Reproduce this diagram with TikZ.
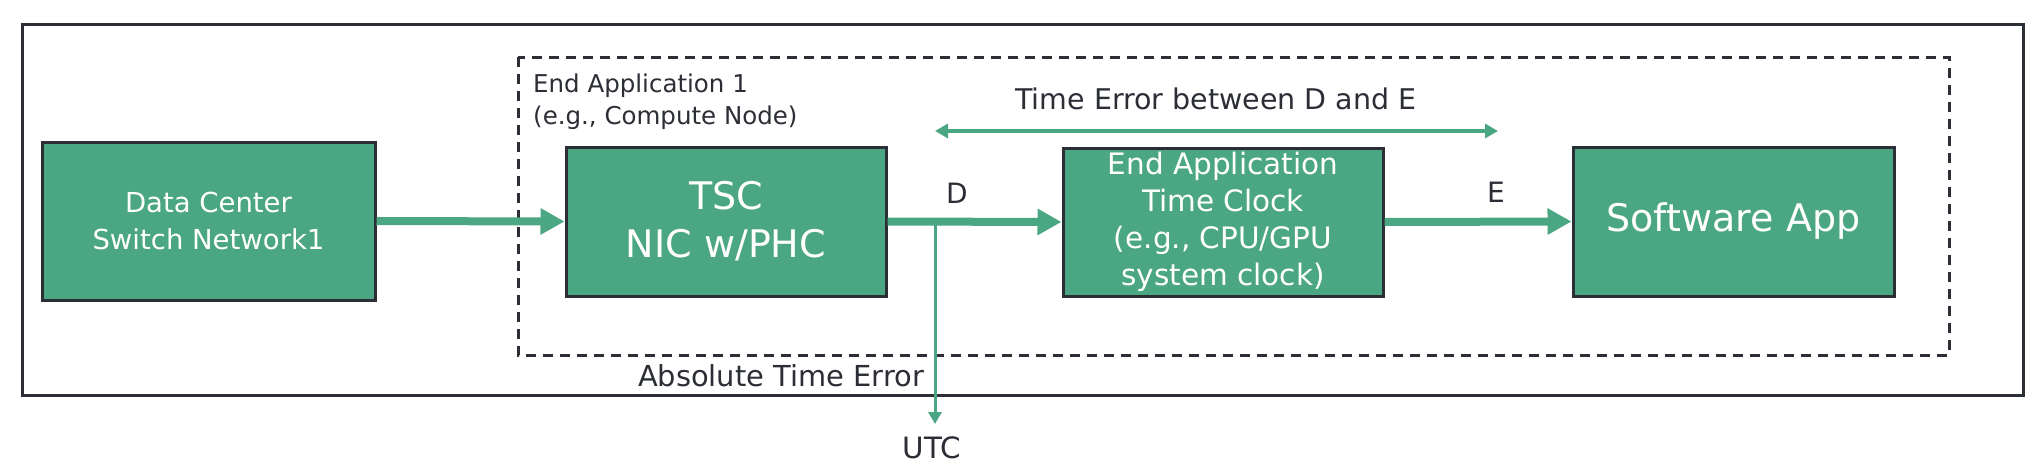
\documentclass[tikz,border=0pt]{standalone}
\usepackage{fontspec}
\setmainfont{DejaVu Sans}
\usetikzlibrary{arrows.meta}
\definecolor{grn}{HTML}{4BA683}
\definecolor{ink}{HTML}{2C2E36}
\begin{document}
\begin{tikzpicture}[x=1pt,y=-1pt,
  box/.style={draw=ink, line width=3pt, fill=grn, text=white, align=center, inner sep=0pt},
  lbl/.style={text=ink, inner sep=0pt},
  bigarrow/.style={draw=grn, line width=8pt, -{Triangle[length=24pt,width=25pt]}},
  thinarrow/.style={draw=grn, line width=3pt, -{Triangle[length=12pt,width=13pt]}},
  dblarrow/.style={draw=grn, line width=4pt, {Triangle[length=13pt,width=14pt]}-{Triangle[length=13pt,width=14pt]}},
]
\useasboundingbox (0,0) rectangle (2042,472);
\fill[white] (0,0) rectangle (2042,472);
% frames
\draw[ink, line width=3pt] (22,24) rectangle (2023,395);
\draw[ink, line width=3pt, dash pattern=on 10pt off 7pt] (518,57) rectangle (1949,355);

% boxes
\node[box, minimum width=333pt, minimum height=158pt, font=\fontsize{27.5}{37}\selectfont] (dc) at (208.5,221) {Data Center\\Switch Network1};
\node[box, minimum width=320pt, minimum height=149pt, font=\fontsize{38}{48}\selectfont] (tsc) at (726,221.5) {TSC\\NIC w/PHC};
\node[box, minimum width=320pt, minimum height=148pt, font=\fontsize{29.5}{37}\selectfont] (eac) at (1223,222) {End Application\\Time Clock\\(e.g., CPU/GPU\\system clock)};
\node[box, minimum width=321pt, minimum height=149pt, font=\fontsize{38}{48}\selectfont] (sw) at (1733.5,221.5) {Software App};

% connectors
\draw[bigarrow] (dc.east) -- (tsc.west);
\draw[bigarrow] (tsc.east) -- (eac.west);
\draw[bigarrow] (eac.east) -- (sw.west);
\coordinate (j) at (935,221);
\coordinate (utctip) at (935,424);
\draw[thinarrow] (j) -- (utctip);
\coordinate (ta) at (935,131);
\coordinate (tb) at (1498,131);
\draw[dblarrow] (ta) -- (tb);

% labels
\node[lbl, font=\fontsize{28}{34}\selectfont] (dlab) at (957,193) {D};
\node[lbl, font=\fontsize{28}{34}\selectfont] (elab) at (1496,192) {E};
\node[lbl, font=\fontsize{28.5}{34}\selectfont] (tel) at (1216,99) {Time Error between D and E};
\node[lbl, anchor=west, align=left, font=\fontsize{24.5}{32}\selectfont] (ea1) at (533,102) {End Application 1\\(e.g., Compute Node)};
\node[lbl, font=\fontsize{28.9}{34}\selectfont] (abs) at (781,376) {Absolute Time Error};
\node[lbl, font=\fontsize{29.4}{34}\selectfont] (utc) at (932,448) {UTC};
\end{tikzpicture}
\end{document}
